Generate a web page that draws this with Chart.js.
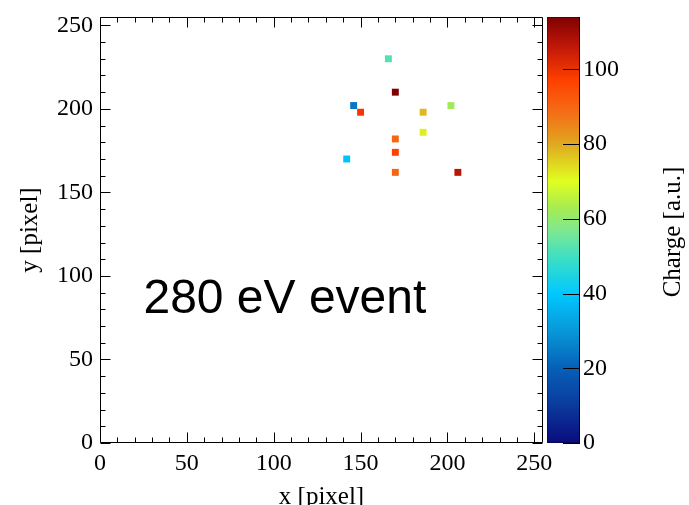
<!DOCTYPE html>
<html><head><meta charset="utf-8">
<script src="https://cdn.jsdelivr.net/npm/chart.js@4/dist/chart.umd.min.js"></script>
<style>html,body{margin:0;padding:0;background:#fff;overflow:hidden}canvas{display:block}</style>
</head><body>
<canvas id="c" width="689" height="505"></canvas>
<script>
// ---- data (pixel-bin centres, charge per bin) ----
const xValues = [166, 170, 146, 150, 186, 202, 186, 170, 170, 142, 170, 206];
const yValues = [230, 210, 202, 198, 198, 202, 186, 182, 174, 170, 162, 162];
const charge  = [ 52, 114,  24,  99,  78,  62,  72,  90,  97,  39,  90, 107];
const xTickLabels = [0, 50, 100, 150, 200, 250];
const yTickLabels = [0, 50, 100, 150, 200, 250];
const zTickLabels = [0, 20, 40, 60, 80, 100];
const axisMax = 255;
const chargeMax = 114;
const colorStops = [
  [0, '#0b0b7e'], [10, '#0a3a9c'], [20, '#0660b8'], [30, '#0898d8'],
  [40, '#00c8ff'], [50, '#40e0c0'], [57, '#80e890'], [63, '#a8ec50'],
  [70, '#e0ff20'], [80, '#e0a820'], [88, '#f47018'], [97, '#ff4000'],
  [106, '#c01808'], [114, '#800000']
];
const eventText = '280 eV event';
const eventPos = {x: 25, y: 78};

function hex(c){return [parseInt(c.substr(1,2),16),parseInt(c.substr(3,2),16),parseInt(c.substr(5,2),16)];}
function colorFor(v){
  if (v <= colorStops[0][0]) return colorStops[0][1];
  for (let i = 1; i < colorStops.length; i++) {
    if (v <= colorStops[i][0]) {
      const [v0,c0] = colorStops[i-1], [v1,c1] = colorStops[i];
      const t = (v - v0) / (v1 - v0), a = hex(c0), b = hex(c1);
      return 'rgb(' + a.map((x,k)=>Math.round(x + (b[k]-x)*t)).join(',') + ')';
    }
  }
  return colorStops[colorStops.length-1][1];
}

const serif = '"Liberation Serif", "Times New Roman", serif';

const rootPlugin = {
  id: 'rootStyle',
  afterDatasetsDraw(chart) {
    const {ctx, chartArea: a, scales: {x, y, c}} = chart;
    ctx.save();
    // colour bar
    const cbL = a.right + 4, cbR = cbL + 33;
    const yTop = c.getPixelForValue(chargeMax), yBot = c.getPixelForValue(0);
    const g = ctx.createLinearGradient(0, yBot, 0, yTop);
    colorStops.forEach(([v, col]) => g.addColorStop(v / chargeMax, col));
    ctx.fillStyle = g;
    ctx.fillRect(cbL, yTop, cbR - cbL, yBot - yTop);
    ctx.strokeStyle = 'rgba(0,0,0,0.35)';
    ctx.lineWidth = 1;
    ctx.strokeRect(cbL + 0.5, yTop + 0.5, cbR - cbL - 1, yBot - yTop - 1);
    ctx.strokeStyle = '#000';
    ctx.beginPath();
    ctx.moveTo(cbR - 0.5, yTop); ctx.lineTo(cbR - 0.5, yBot);
    zTickLabels.forEach(v => {
      const py = Math.round(c.getPixelForValue(v)) + 0.5;
      ctx.moveTo(cbR - 17, py); ctx.lineTo(cbR, py);
    });
    ctx.stroke();
    // frame
    ctx.strokeStyle = '#000';
    ctx.beginPath();
    const L = Math.round(a.left) + 0.5, R = Math.round(a.right) - 0.5;
    const T = Math.round(a.top) + 0.5, B = Math.round(a.bottom) - 0.5;
    ctx.rect(L, T, R - L, B - T);
    // inner ticks on all four sides
    for (let v = 0; v <= axisMax; v += 10) {
      const len = v % 50 === 0 ? 10 : 5;
      const px = Math.round(x.getPixelForValue(v)) + 0.5;
      ctx.moveTo(px, B); ctx.lineTo(px, B - len);
      ctx.moveTo(px, T); ctx.lineTo(px, T + len);
      const py = Math.round(y.getPixelForValue(v)) + 0.5;
      ctx.moveTo(L, py); ctx.lineTo(L + len, py);
      ctx.moveTo(R, py); ctx.lineTo(R - len, py);
    }
    ctx.stroke();
    // event label
    ctx.fillStyle = '#000';
    ctx.font = '48px "Liberation Sans", Arial, sans-serif';
    ctx.textAlign = 'left';
    ctx.textBaseline = 'alphabetic';
    ctx.fillText(eventText, x.getPixelForValue(eventPos.x), y.getPixelForValue(eventPos.y));
    // colour-bar title
    ctx.font = '25px ' + serif;
    ctx.textAlign = 'center';
    ctx.textBaseline = 'middle';
    ctx.translate(a.right + 130, (a.top + a.bottom) / 2 + 2);
    ctx.rotate(-Math.PI / 2);
    ctx.fillText('Charge [a.u.]', 0, 0);
    ctx.restore();
  }
};

new Chart(document.getElementById('c'), {
  type: 'scatter',
  data: {
    datasets: [{
      data: xValues.map((v, i) => ({x: v, y: yValues[i]})),
      backgroundColor: charge.map(colorFor),
      pointStyle: 'rect',
      pointRadius: 4.9,
      pointHoverRadius: 4.9,
      borderWidth: 0
    }]
  },
  options: {
    responsive: false,
    animation: false,
    devicePixelRatio: 1,
    layout: {padding: {top: 17, left: 0, right: 0, bottom: 0}},
    plugins: {legend: {display: false}, tooltip: {enabled: false}},
    scales: {
      x: {
        type: 'linear', position: 'bottom', min: 0, max: axisMax,
        afterBuildTicks: s => { s.ticks = xTickLabels.map(v => ({value: v})); },
        afterFit: s => { s.height = 62; },
        grid: {display: false, drawTicks: true, tickLength: 6},
        border: {display: false},
        ticks: {padding: 0, autoSkip: false, maxRotation: 0, color: '#000', font: {family: serif, size: 24}},
        title: {display: true, text: 'x [pixel]', color: '#000', font: {family: serif, size: 25}, padding: {top: 0, bottom: -7}}
      },
      y: {
        type: 'linear', position: 'left', min: 0, max: axisMax,
        afterBuildTicks: s => { s.ticks = yTickLabels.map(v => ({value: v})); },
        afterFit: s => { s.width = 100; },
        grid: {display: false, drawTicks: true, tickLength: 7},
        border: {display: false},
        ticks: {padding: 0, autoSkip: false, color: '#000', font: {family: serif, size: 24}},
        title: {display: true, text: 'y [pixel]', color: '#000', font: {family: serif, size: 25}, padding: {top: 15, bottom: 0}}
      },
      c: {
        type: 'linear', position: 'right', min: 0, max: chargeMax,
        afterBuildTicks: s => { s.ticks = zTickLabels.map(v => ({value: v})); },
        afterFit: s => { s.width = 146; },
        grid: {display: false, drawTicks: true, tickLength: 40},
        border: {display: false},
        ticks: {padding: 0, autoSkip: false, color: '#000', font: {family: serif, size: 24}}
      }
    }
  },
  plugins: [rootPlugin]
});
</script>
</body></html>
